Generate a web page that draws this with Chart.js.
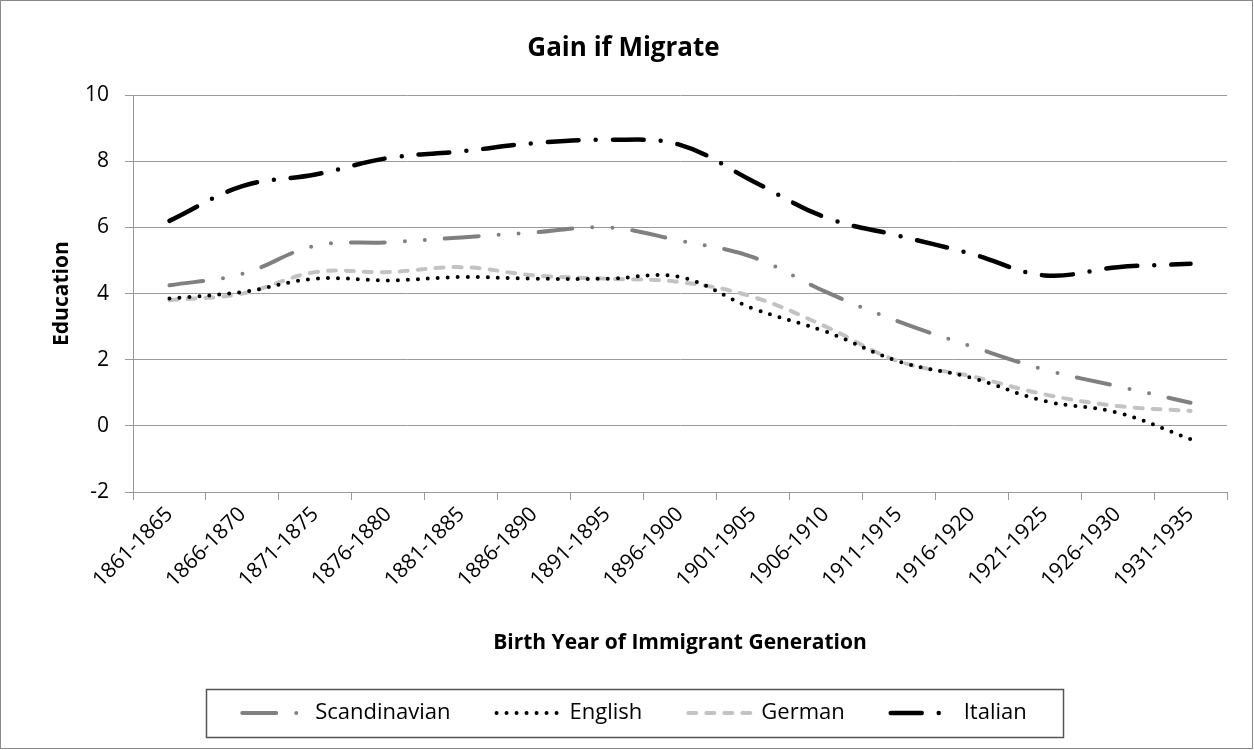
<!DOCTYPE html>
<html>
<head>
<meta charset="utf-8">
<title>Gain if Migrate</title>
<script src="https://cdn.jsdelivr.net/npm/chart.js@4.4.1/dist/chart.umd.min.js"></script>
<style>
    html, body { margin: 0; padding: 0; background: #fff; }
    #chart { display: block; }
</style>
</head>
<body>
<canvas id="chart" width="1254" height="750"></canvas>
<script>
// --- Data ---
const periods = ['1861-1865', '1866-1870', '1871-1875', '1876-1880', '1881-1885', '1886-1890', '1891-1895',
    '1896-1900', '1901-1905', '1906-1910', '1911-1915', '1916-1920', '1921-1925', '1926-1930', '1931-1935'];
const scandinavian = [4.25, 4.6, 5.45, 5.55, 5.7, 5.85, 6.0, 5.6, 5.1, 4.05, 3.15, 2.4, 1.7, 1.2, 0.7];
const english = [3.85, 4.05, 4.45, 4.4, 4.5, 4.45, 4.45, 4.5, 3.55, 2.85, 1.95, 1.45, 0.75, 0.4, -0.4];
const german = [3.8, 4.0, 4.65, 4.65, 4.8, 4.55, 4.45, 4.35, 3.9, 3.0, 1.95, 1.5, 0.95, 0.6, 0.45];
const italian = [6.2, 7.25, 7.6, 8.1, 8.3, 8.55, 8.65, 8.5, 7.4, 6.3, 5.75, 5.2, 4.55, 4.8, 4.9];
const yTicks = [-2, 0, 2, 4, 6, 8, 10];

const FONT = "'Open Sans', 'DejaVu Sans', sans-serif";
const GRID = '#9a9a9a';

// white background, outer frame and the box round the legend
const frame = {
    id: 'frame',
    afterLayout(chart) {
        // the legend sits a little right of the canvas centre
        chart.legend.left += 11;
        chart.legend.right += 11;
    },
    beforeDraw(chart) {
        const ctx = chart.ctx;
        ctx.save();
        ctx.fillStyle = '#fff';
        ctx.fillRect(0, 0, chart.width, chart.height);
        ctx.strokeStyle = '#8a8a8a';
        ctx.lineWidth = 1;
        ctx.strokeRect(0.5, 0.5, chart.width - 2, chart.height - 2);
        ctx.restore();
    },
    afterDraw(chart) {
        const boxes = chart.legend && chart.legend.legendHitBoxes;
        if (!boxes || !boxes.length) return;
        const left = Math.min(...boxes.map(b => b.left)) - 36;
        const right = Math.max(...boxes.map(b => b.left + b.width)) + 36;
        const mid = boxes[0].top + boxes[0].height / 2;
        const ctx = chart.ctx;
        ctx.save();
        ctx.strokeStyle = '#555';
        ctx.lineWidth = 1.5;
        ctx.strokeRect(Math.round(left) + 0.5, Math.round(mid - 24) + 0.5, Math.round(right - left), 48);
        ctx.restore();
    }
};

const series = (label, data, color, width, dash) => ({
    label,
    data,
    borderColor: color,
    backgroundColor: color,
    borderWidth: width,
    borderDash: dash,
    borderCapStyle: 'round',
    borderJoinStyle: 'round',
    pointRadius: 0,
    pointHoverRadius: 0,
    tension: 0.38,
    fill: false
});

// legend samples keep each dataset's dash pattern
const legendLabels = (chart) => {
    const items = Chart.defaults.plugins.legend.labels.generateLabels(chart);
    return items.map(item => {
        const ds = chart.data.datasets[item.datasetIndex];
        return {
            ...item,
            lineDash: ds.borderDash,
            lineCap: 'round',
            lineWidth: ds.borderWidth,
            strokeStyle: ds.borderColor,
            fillStyle: ds.borderColor,
            fontColor: '#000'
        };
    });
};

document.addEventListener('DOMContentLoaded', () => {
    const ctx = document.getElementById('chart').getContext('2d');
    new Chart(ctx, {
        type: 'line',
        data: {
            labels: periods,
            datasets: [
                series('Scandinavian', scandinavian, '#808080', 4, [34, 20, 0, 20, 0, 20]),
                series('English', english, '#000000', 4, [0, 10]),
                series('German', german, '#c3c3c3', 4, [8, 10]),
                series('Italian', italian, '#000000', 4.5, [31, 17, 0, 17])
            ]
        },
        options: {
            responsive: false,
            animation: false,
            layout: { padding: { left: 20, right: 27, top: 10, bottom: 16 } },
            plugins: {
                title: {
                    display: true,
                    text: 'Gain if Migrate',
                    color: '#000',
                    font: { family: FONT, size: 26, weight: 'bold' },
                    padding: { top: 23, bottom: 31 }
                },
                legend: {
                    position: 'bottom',
                    labels: {
                        color: '#000',
                        font: { family: FONT, size: 22 },
                        usePointStyle: true,
                        pointStyle: 'line',
                        pointStyleWidth: 62,
                        padding: 46,
                        generateLabels: legendLabels
                    }
                },
                tooltip: { enabled: false }
            },
            scales: {
                x: {
                    offset: true,
                    grid: { display: true, drawOnChartArea: false, color: GRID, tickLength: 8, offset: true },
                    border: { color: GRID },
                    ticks: {
                        color: '#000',
                        font: { family: FONT, size: 21 },
                        minRotation: 45,
                        maxRotation: 45,
                        autoSkip: false,
                        padding: 2
                    },
                    title: {
                        display: true,
                        text: 'Birth Year of Immigrant Generation',
                        color: '#000',
                        font: { family: FONT, size: 21, weight: 'bold' },
                        padding: { top: 4, bottom: 0 }
                    },
                    afterFit: (scale) => { scale.height = 164; }
                },
                y: {
                    min: -2,
                    max: 10,
                    afterBuildTicks: (scale) => { scale.ticks = yTicks.map(v => ({ value: v })); },
                    grid: { color: GRID, tickLength: 8 },
                    border: { color: GRID },
                    ticks: {
                        color: '#000',
                        font: { family: FONT, size: 21 },
                        padding: 16
                    },
                    title: {
                        display: true,
                        text: 'Education',
                        color: '#000',
                        font: { family: FONT, size: 21, weight: 'bold' },
                        padding: { top: 29, bottom: 0 }
                    },
                    afterFit: (scale) => { scale.width = 113; }
                }
            }
        },
        plugins: [frame]
    });
});
</script>
</body>
</html>
